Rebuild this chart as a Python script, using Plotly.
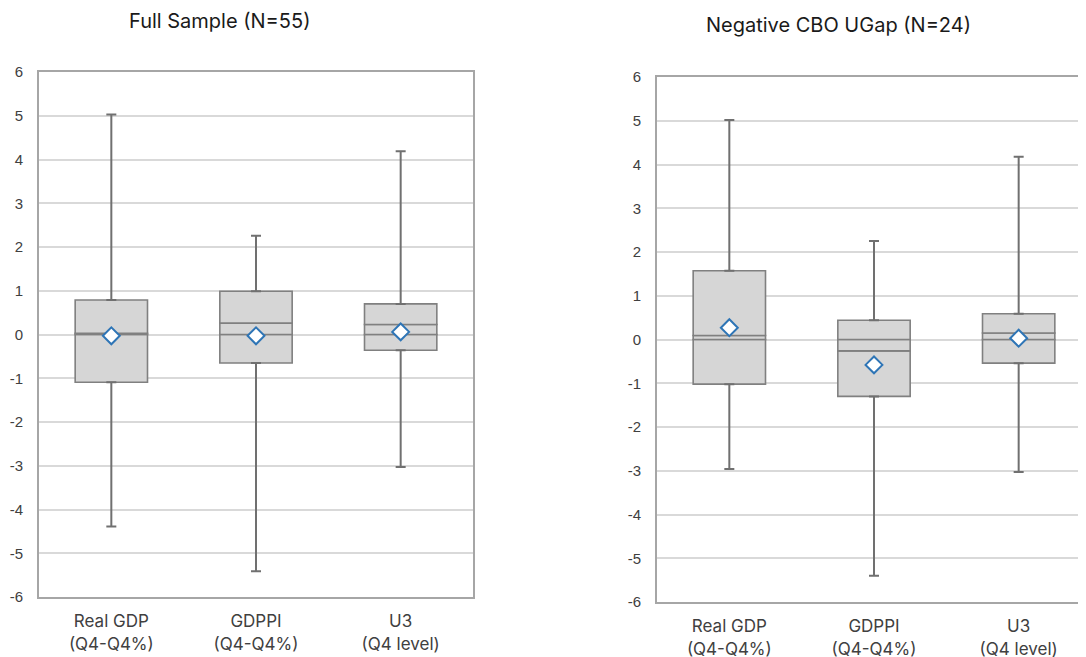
import plotly.graph_objects as go

categories = ["Real GDP<br>(Q4-Q4%)", "GDPPI<br>(Q4-Q4%)", "U3<br>(Q4 level)"]
tick_values = [-6, -5, -4, -3, -2, -1, 0, 1, 2, 3, 4, 5, 6]
tick_labels = ["-6", "-5", "-4", "-3", "-2", "-1", "0", "1", "2", "3", "4", "5", "6"]

panel_titles = ["Full Sample (N=55)", "Negative CBO UGap (N=24)"]

# Full sample
full_upper = [5.03, 2.26, 4.19]
full_q3 = [0.79, 0.99, 0.70]
full_median = [0.03, 0.26, 0.23]
full_q1 = [-1.09, -0.65, -0.36]
full_lower = [-4.39, -5.41, -3.03]
full_mean = [-0.03, -0.03, 0.06]

# Negative CBO UGap
neg_upper = [5.02, 2.25, 4.18]
neg_q3 = [1.57, 0.44, 0.59]
neg_median = [0.09, -0.26, 0.15]
neg_q1 = [-1.02, -1.30, -0.54]
neg_lower = [-2.96, -5.40, -3.03]
neg_mean = [0.27, -0.58, 0.03]

panels = [
    dict(upper=full_upper, q3=full_q3, med=full_median, q1=full_q1, lower=full_lower, mean=full_mean),
    dict(upper=neg_upper, q3=neg_q3, med=neg_median, q1=neg_q1, lower=neg_lower, mean=neg_mean),
]

# page body has an 8px margin, so the figure is sized/offset to fit the window
OFF = 8
W, H = 1086 - OFF, 657 - OFF
BOX_FILL = "rgb(214,214,214)"
BOX_LINE = "rgb(128,128,128)"
WHISK = "rgb(112,112,112)"
BLUE = "rgb(46,117,182)"
GRID = "rgb(217,217,217)"
BORDER = "rgb(166,166,166)"

fig = go.Figure()

xpos = list(range(len(categories)))
for p, d in enumerate(panels):
    xa = "x" if p == 0 else "x2"
    ya = "y" if p == 0 else "y2"
    # box segments (stacked style, split at median and zero)
    bx, bbase, bh = [], [], []
    for i in xpos:
        pts = sorted(set([d["q1"][i], d["med"][i], d["q3"][i]] + ([0.0] if d["q1"][i] < 0 < d["q3"][i] else [])))
        for lo, hi in zip(pts[:-1], pts[1:]):
            bx.append(i)
            bbase.append(lo)
            bh.append(hi - lo)
    fig.add_trace(go.Bar(x=bx, y=bh, base=bbase, width=0.5, xaxis=xa, yaxis=ya,
                         marker=dict(color=BOX_FILL, line=dict(color=BOX_LINE, width=1.6)),
                         showlegend=False, hoverinfo="skip"))
    # upper whiskers
    fig.add_trace(go.Scatter(x=xpos, y=d["q3"], mode="markers", xaxis=xa, yaxis=ya,
                             marker=dict(size=0.1, color="rgba(0,0,0,0)"),
                             error_y=dict(type="data", symmetric=False,
                                          array=[u - q for u, q in zip(d["upper"], d["q3"])],
                                          arrayminus=[0] * 3, color=WHISK, thickness=2, width=5),
                             showlegend=False, hoverinfo="skip"))
    # lower whiskers
    fig.add_trace(go.Scatter(x=xpos, y=d["q1"], mode="markers", xaxis=xa, yaxis=ya,
                             marker=dict(size=0.1, color="rgba(0,0,0,0)"),
                             error_y=dict(type="data", symmetric=False,
                                          array=[0] * 3,
                                          arrayminus=[q - l for q, l in zip(d["q1"], d["lower"])],
                                          color=WHISK, thickness=2, width=5),
                             showlegend=False, hoverinfo="skip"))
    # means
    fig.add_trace(go.Scatter(x=xpos, y=d["mean"], mode="markers", xaxis=xa, yaxis=ya,
                             marker=dict(symbol="diamond", size=13, color="white",
                                         line=dict(color=BLUE, width=2)),
                             showlegend=False, hoverinfo="skip"))

# target positions in window pixels
left_x0, left_x1 = 39 - OFF, 473 - OFF
right_x0 = 657 - OFF
spacing = (left_x1 - left_x0) / 3.0
l_top, l_bot = 72 - OFF, 597 - OFF
r_top, r_bot = 77 - OFF, 602 - OFF

common_x = dict(tickmode="array", tickvals=xpos, ticktext=categories, showgrid=False,
                zeroline=False, showline=True, linecolor=BORDER, linewidth=2, mirror=True,
                ticks="", ticklabelstandoff=8, automargin=False,
                tickfont=dict(family="Inter, Noto Sans, sans-serif", size=17, color="#404040"))
common_y = dict(range=[-6, 6], tickmode="array", tickvals=tick_values, ticktext=tick_labels,
                showgrid=True, gridcolor=GRID, gridwidth=1.5, zeroline=False, showline=True,
                automargin=False, linecolor=BORDER, linewidth=2, ticks="", ticklabelstandoff=11,
                tickfont=dict(family="Liberation Sans, Arial, sans-serif", size=15, color="#404040"))

fig.update_layout(
    width=W, height=H, autosize=False, margin=dict(l=0, r=0, t=0, b=0, pad=0),
    paper_bgcolor="white", plot_bgcolor="white", barmode="overlay", showlegend=False,
    xaxis=dict(domain=[left_x0 / W, left_x1 / W], range=[-0.5, 2.5], anchor="y", **common_x),
    yaxis=dict(domain=[1 - l_bot / H, 1 - l_top / H], anchor="x", mirror=True, **common_y),
    xaxis2=dict(domain=[right_x0 / W, 1.0],
                range=[-0.5, -0.5 + (W - right_x0) / spacing], anchor="y2", **common_x),
    yaxis2=dict(domain=[1 - r_bot / H, 1 - r_top / H], anchor="x2", mirror=False, **common_y),
    annotations=[
        dict(text=panel_titles[0], x=(219 - OFF) / W, y=1 - (21 - OFF) / H, xref="paper", yref="paper",
             xanchor="center", yanchor="middle", showarrow=False, borderpad=0,
             font=dict(family="Inter, Noto Sans, sans-serif", size=20, color="#1a1a1a")),
        dict(text=panel_titles[1], x=(838 - OFF) / W, y=1 - (25 - OFF) / H, xref="paper", yref="paper",
             xanchor="center", yanchor="middle", showarrow=False, borderpad=0,
             font=dict(family="Inter, Noto Sans, sans-serif", size=20, color="#1a1a1a")),
    ],
)

fig.write_html("out.html")
